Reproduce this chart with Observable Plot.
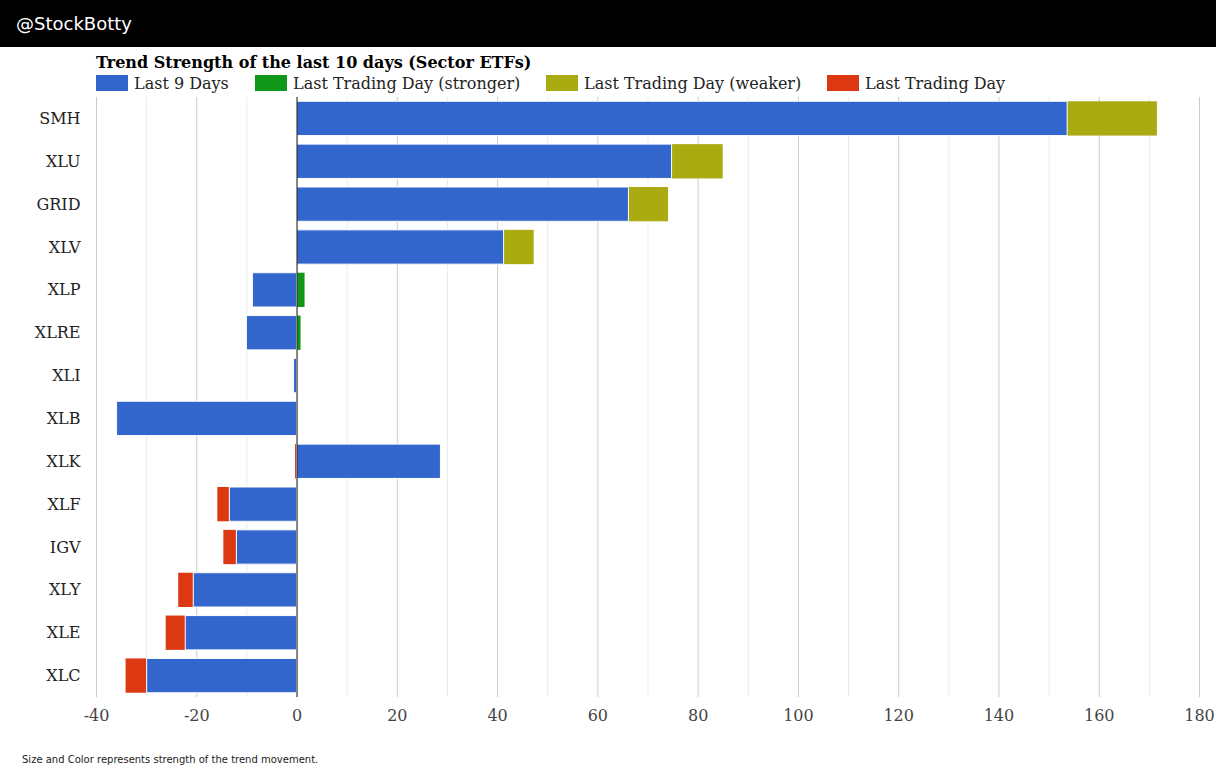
<!DOCTYPE html>
<html>
<head>
<meta charset="utf-8">
<script src="https://cdn.jsdelivr.net/npm/d3@7"></script>
<script src="https://cdn.jsdelivr.net/npm/@observablehq/plot@0.6"></script>
<style>
  html, body { margin: 0; padding: 0; background: #fff; width: 1216px; height: 769px; overflow: hidden; position: relative; }
  #header { position: absolute; left: 0; top: 0; width: 1216px; height: 47px; background: #000; }
  #header span { position: absolute; left: 16px; top: 13px; color: #fff; font: 18px "DejaVu Sans", sans-serif; }
  #title { position: absolute; left: 96px; top: 53px; font: bold 16px "DejaVu Serif", serif; color: #000; white-space: nowrap; }
  #legend { position: absolute; left: 96px; top: 74px; height: 18px; font: 16px "DejaVu Serif", serif; color: #222; white-space: nowrap; }
  .item { position: absolute; top: 0; }
  .sw { position: absolute; left: 0; top: 1px; width: 32px; height: 16px; }
  .lab { position: absolute; left: 38px; top: 0px; }
  #chart { position: absolute; left: 0; top: 90px; }
  #footer { position: absolute; left: 22px; top: 754px; font: 10px "DejaVu Sans", sans-serif; color: #222; white-space: nowrap; }
</style>
</head>
<body>
<div id="header"><span>@StockBotty</span></div>
<div id="title">Trend Strength of the last 10 days (Sector ETFs)</div>
<div id="legend"></div>
<div id="chart"></div>
<div id="footer">Size and Color represents strength of the trend movement.</div>
<script>
const tickers = ["SMH","XLU","GRID","XLV","XLP","XLRE","XLI","XLB","XLK","XLF","IGV","XLY","XLE","XLC"];
const last9Days = [153.7, 74.8, 66.2, 41.3, -8.8, -10.0, -0.6, -35.9, 28.7, -13.4, -12.0, -20.6, -22.2, -29.9];
const lastDay = [17.9, 10.2, 7.9, 6.0, 1.6, 0.8, 0, 0, -0.3, -2.4, -2.6, -3.0, -3.9, -4.2];
const lastDayType = ["Last Trading Day (weaker)","Last Trading Day (weaker)","Last Trading Day (weaker)","Last Trading Day (weaker)",
  "Last Trading Day (stronger)","Last Trading Day (stronger)","Last Trading Day","Last Trading Day","Last Trading Day",
  "Last Trading Day","Last Trading Day","Last Trading Day","Last Trading Day","Last Trading Day"];
const seriesNames = ["Last 9 Days","Last Trading Day (stronger)","Last Trading Day (weaker)","Last Trading Day"];
const seriesColors = ["#3366cc","#109618","#aaaa11","#dc3912"];
const xTicks = [-40,-20,0,20,40,60,80,100,120,140,160,180];
const xMinorTicks = [-30,-10,10,30,50,70,90,110,130,150,170];

// legend
const legendOffsets = [0, 159, 450, 731];
const legend = document.getElementById("legend");
seriesNames.forEach((name, i) => {
  const it = document.createElement("div");
  it.className = "item";
  it.style.left = legendOffsets[i] + "px";
  it.innerHTML = `<div class="sw" style="background:${seriesColors[i]}"></div><div class="lab">${name}</div>`;
  legend.appendChild(it);
});

const rows = [];
tickers.forEach((t, i) => {
  rows.push({ticker: t, series: "Last 9 Days", value: last9Days[i]});
  rows.push({ticker: t, series: lastDayType[i], value: lastDay[i]});
});

const fmt = d => d < 0 ? "-" + Math.abs(d) : String(d);

const plot = Plot.plot({
  width: 1216,
  height: 647,
  marginTop: 7,
  marginBottom: 40,
  marginLeft: 96,
  marginRight: 17,
  style: {fontFamily: "'DejaVu Serif', serif", fontSize: "16px", background: "transparent"},
  x: {domain: [-40, 180], ticks: xTicks, label: null, tickFormat: fmt},
  y: {domain: tickers, label: null, paddingInner: 0.2, paddingOuter: 0.1, round: false},
  color: {domain: seriesNames, range: seriesColors},
  marks: [
    Plot.ruleX(xMinorTicks, {stroke: "#ebebeb", strokeWidth: 1}),
    Plot.ruleX(xTicks.filter(d => d !== 0), {stroke: "#cccccc", strokeWidth: 1}),
    Plot.barX(rows, Plot.stackX({y: "ticker", x: "value", fill: "series", order: null})),
    Plot.barX(rows.filter(d => d.series === "Last 9 Days"), {y: "ticker", x1: 0, x2: "value", fill: "series", stroke: "#fff", strokeWidth: 1}),
    Plot.ruleX([0], {stroke: "#333", strokeWidth: 1.2}),
    Plot.axisX({ticks: xTicks, tickSize: 0, tickPadding: 12, fill: "#444", fontSize: 16, tickFormat: fmt}),
    Plot.axisY({tickSize: 0, tickPadding: 16, fill: "#222", fontSize: 16})
  ]
});
document.getElementById("chart").appendChild(plot);
</script>
</body>
</html>
